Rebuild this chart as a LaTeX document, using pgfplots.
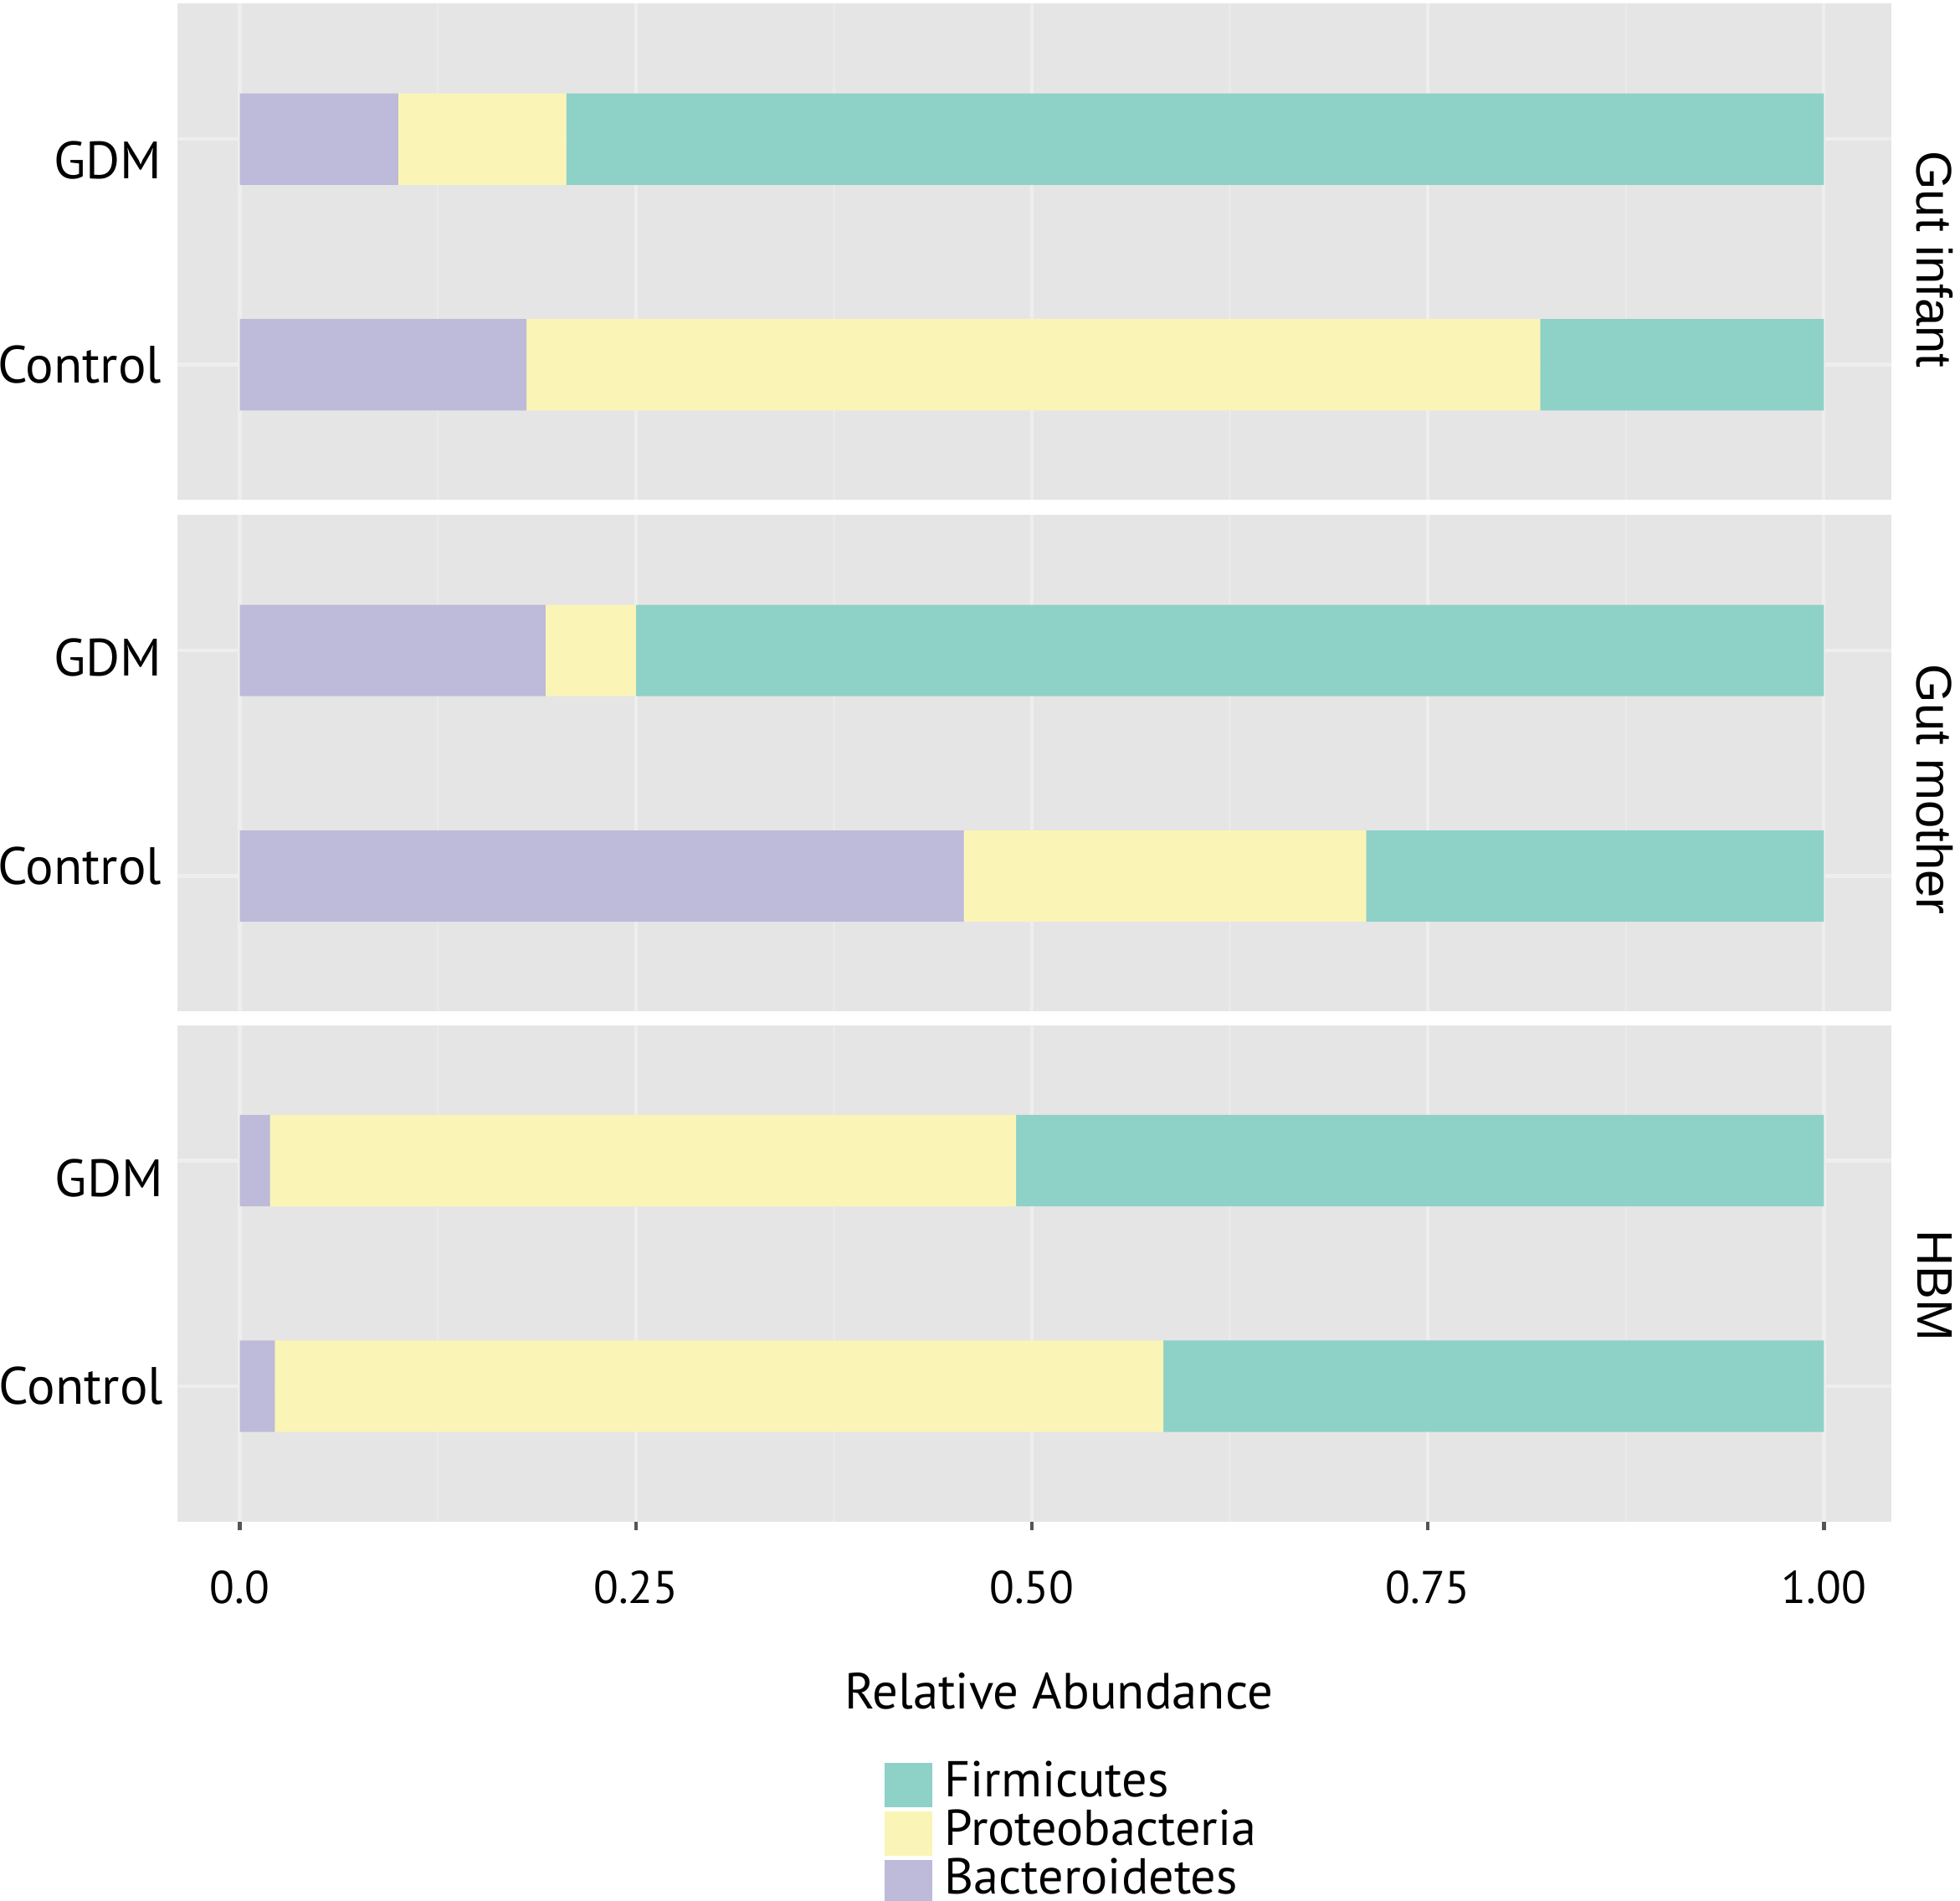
\documentclass[border=0pt]{standalone}
\usepackage{pgfplots}
\usepackage{pgfplotstable}
\pgfplotsset{compat=1.18}
\usepackage{fontspec}
\setmainfont{PT Sans}
\newfontfamily\stripfont{Liberation Sans}

\definecolor{firm}{HTML}{8ED1C6}
\definecolor{prot}{HTML}{FAF5B6}
\definecolor{bact}{HTML}{BEBAD9}
\definecolor{panelbg}{HTML}{E5E5E5}
\definecolor{gridmaj}{HTML}{EEEEEE}
\definecolor{gridmin}{HTML}{EAEAEA}
\definecolor{tickc}{HTML}{555555}

% grp: 1 = Control, 2 = GDM
\pgfplotstableread{
grp bact prot firm
1 0.181 0.640 0.179
2 0.100 0.106 0.794
}\infant
\pgfplotstableread{
grp bact prot firm
1 0.457 0.254 0.289
2 0.193 0.057 0.750
}\mother
\pgfplotstableread{
grp bact prot firm
1 0.022 0.561 0.417
2 0.019 0.471 0.510
}\hbm

\newcommand{\lift}[2]{\raisebox{#1}[\height][\depth]{#2}}

\pgfplotsset{
  panel/.style={
    width=411.3pt, height=119.1pt, scale only axis,
    xmin=-0.0394, xmax=1.0426, ymin=0.4, ymax=2.6,
    xbar stacked, bar width=0.405,
    axis background/.style={fill=panelbg},
    axis line style={draw=none},
    xtick={0,0.25,0.5,0.75,1}, minor x tick num=1,
    ytick={1,2},
    grid=both,
    major grid style={draw=gridmaj, line width=0.9pt},
    minor grid style={draw=gridmin, line width=0.45pt},
    tick align=outside, xtick pos=left,
    minor tick length=0pt,
    major y tick style={draw=none},
    yticklabel style={font=\fontsize{12.6}{12.6}\selectfont, xshift=4pt},
  },
  nox/.style={xticklabels={}, major x tick style={draw=none}},
}

\begin{document}
\begin{tikzpicture}

\begin{axis}[panel, nox, name=p1, at={(42.6pt,455.1pt)}, anchor=north west,
  yticklabels={Control,{\lift{-5pt}{GDM}}}]
  \addplot[fill=bact, draw=none] table[x=bact, y=grp] {\infant};
  \addplot[fill=prot, draw=none] table[x=prot, y=grp] {\infant};
  \addplot[fill=firm, draw=none] table[x=firm, y=grp] {\infant};
\end{axis}

\begin{axis}[panel, nox, name=p2, at={(42.6pt,332.4pt)}, anchor=north west,
  yticklabels={{\lift{2.5pt}{Control}},{\lift{-1.6pt}{GDM}}}]
  \addplot[fill=bact, draw=none] table[x=bact, y=grp] {\mother};
  \addplot[fill=prot, draw=none] table[x=prot, y=grp] {\mother};
  \addplot[fill=firm, draw=none] table[x=firm, y=grp] {\mother};
\end{axis}

\begin{axis}[panel, name=p3, at={(42.6pt,210pt)}, anchor=north west,
  yticklabels={Control,{\lift{-4.2pt}{GDM}}},
  yticklabel style={xshift=-1.9pt},
  xticklabels={0.0,0.25,0.50,0.75,1.00},
  xticklabel style={font=\fontsize{11}{11}\selectfont, yshift=-6.3pt},
  major tick length=2pt,
  major x tick style={draw=tickc, line width=0.9pt},
  reverse legend,
  legend cell align=left,
  legend image code/.code={\fill[#1,draw=none] (0pt,-5.3pt) rectangle (11.4pt,5.3pt);},
  legend style={draw=none, fill=none, inner sep=0pt,
    at={(0.412,-0.481)}, anchor=north west,
    font=\fontsize{12.1}{12.1}\selectfont,
    row sep=0pt,
    nodes={inner sep=0pt, text height=8.6pt, text depth=3pt},
    /tikz/every odd column/.append style={column sep=3pt}},
  ]
  \addplot[fill=bact, draw=none] table[x=bact, y=grp] {\hbm};
  \addlegendentry{Bacteroidetes}
  \addplot[fill=prot, draw=none] table[x=prot, y=grp] {\hbm};
  \addlegendentry{Proteobacteria}
  \addplot[fill=firm, draw=none] table[x=firm, y=grp] {\hbm};
  \addlegendentry{Firmicutes}
\end{axis}

\node[rotate=-90, font=\stripfont\fontsize{12}{12}\selectfont] at ([xshift=10.4pt, yshift=-1.8pt]p1.east) {Gut infant};
\node[rotate=-90, font=\stripfont\fontsize{12}{12}\selectfont] at ([xshift=10.4pt, yshift=-6.3pt]p2.east) {Gut mother};
\node[rotate=-90, font=\stripfont\fontsize{12}{12}\selectfont] at ([xshift=10.4pt, yshift=-2.9pt]p3.east) {HBM};

\node[anchor=base, font=\fontsize{12.2}{12.2}\selectfont] at (254.1pt,45.9pt) {Relative Abundance};

\pgfresetboundingbox
\path[use as bounding box] (0,0) rectangle (470.4pt,456pt);
\end{tikzpicture}
\end{document}
